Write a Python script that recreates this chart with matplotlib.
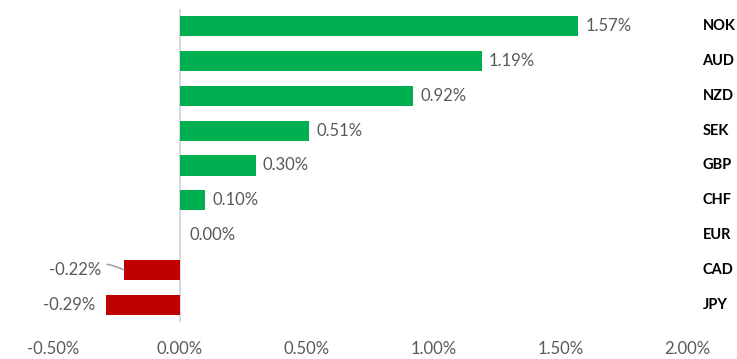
import matplotlib.pyplot as plt
from matplotlib.ticker import FuncFormatter

# currency performance (%)
currencies = ["NOK", "AUD", "NZD", "SEK", "GBP", "CHF", "EUR", "CAD", "JPY"]
changes = [1.57, 1.19, 0.92, 0.51, 0.30, 0.10, 0.00, -0.22, -0.29]
x_ticks = [-0.5, 0.0, 0.5, 1.0, 1.5, 2.0]

green = "#00B050"
red = "#C00000"
grey_text = "#595959"

plt.rcParams['font.family'] = ['Lato', 'DejaVu Sans']

fig = plt.figure(figsize=(7.37, 3.59), dpi=100)
ax = fig.add_axes([0.0716, 0.103, 0.861, 0.872])

ypos = list(range(len(currencies)))
colors = [green if v >= 0 else red for v in changes]
ax.barh(ypos, changes, height=0.58, color=colors, zorder=2)

ax.set_xlim(-0.5, 2.0)
ax.set_ylim(len(currencies) - 0.5, -0.5)
ax.set_xticks(x_ticks)
ax.xaxis.set_major_formatter(FuncFormatter(lambda v, p: "%.2f%%" % v))
ax.set_yticks([])
ax.tick_params(axis='x', length=0, labelsize=12, labelcolor=grey_text, pad=14)
for s in ax.spines.values():
    s.set_visible(False)
ax.axvline(0, color="#D9D9D9", lw=1.5, zorder=1)

# value labels
fs = 12
for y, v in zip(ypos, changes):
    lbl = "%.2f%%" % v
    if v > 0:
        ax.annotate(lbl, (v, y), xytext=(5, 0), textcoords="offset points",
                    ha="left", va="center", fontsize=fs, color=grey_text)
    elif v == 0:
        ax.annotate(lbl, (v, y), xytext=(7, 0), textcoords="offset points",
                    ha="left", va="center", fontsize=fs, color=grey_text)
    elif v > -0.25:
        # label pulled out with a leader line
        ax.annotate(lbl, (v, y), xytext=(-16, 0), textcoords="offset points",
                    ha="right", va="center", fontsize=fs, color=grey_text,
                    arrowprops=dict(arrowstyle="-", color="#A6A6A6", lw=1.2,
                                    shrinkA=2, shrinkB=0,
                                    connectionstyle="arc3,rad=-0.25"))
    else:
        ax.annotate(lbl, (v, y), xytext=(-8, 0), textcoords="offset points",
                    ha="right", va="center", fontsize=fs, color=grey_text)

# category names on the right
trans = ax.get_yaxis_transform()
for y, c in zip(ypos, currencies):
    ax.text(1.024, y, c, transform=trans, ha="left", va="center",
            fontsize=10.5, fontweight="bold", color="black")

fig.savefig("out.png", dpi=100)
